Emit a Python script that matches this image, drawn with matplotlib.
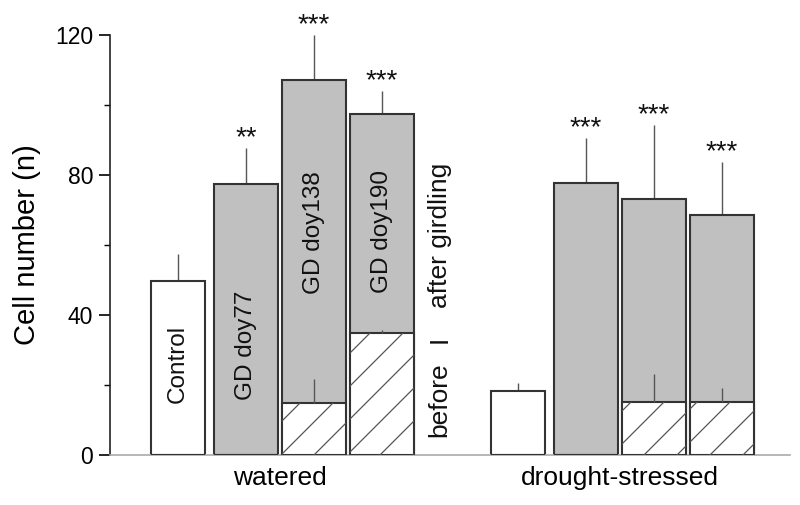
import matplotlib
matplotlib.use("Agg")
from matplotlib import pyplot as plt
from matplotlib.lines import Line2D
from matplotlib.transforms import IdentityTransform

plt.rcParams['font.family'] = ['Liberation Sans', 'DejaVu Sans']

groups = ['watered', 'drought-stressed']
bar_names = ['Control', 'GD doy77', 'GD doy138', 'GD doy190']

watered_total = [49.7, 77.4, 107.1, 97.4]
watered_err = [7.7, 10.3, 12.9, 6.6]
watered_before = [0, 0, 14.9, 34.8]
watered_before_err = [0, 0, 6.8, 0.9]

drought_total = [18.3, 77.7, 73.1, 68.6]
drought_err = [2.2, 12.9, 21.2, 15.1]
drought_before = [0, 0, 15.1, 15.1]
drought_before_err = [0, 0, 8.0, 4.0]

watered_stars = ['', '**', '***', '***']
drought_stars = ['', '***', '***', '***']

fig = plt.figure(figsize=(8, 5.05), dpi=100)
ax = fig.add_axes([0.1375, 0.099, 0.85, 0.8317])

grey = '#c0c0c0'
edge = '#333333'
errc = '#555555'

before_patches = []
for g, (tot, err, bef, berr, stars) in enumerate([
        (watered_total, watered_err, watered_before, watered_before_err, watered_stars),
        (drought_total, drought_err, drought_before, drought_before_err, drought_stars)]):
    pos = [1 + 5 * g + i for i in range(4)]
    widths = [0.8, 0.93, 0.93, 0.93]
    colors = ['white', grey, grey, grey]
    ax.bar(pos, tot, width=widths, color=colors, edgecolor=edge, linewidth=1.5, zorder=2)
    bb = ax.bar(pos, bef, width=widths, color='white', edgecolor=edge, linewidth=1.5, zorder=3)
    for p, b in zip(bb, bef):
        if b > 0:
            before_patches.append(p)
    ax.errorbar(pos, tot, yerr=[[0] * 4, err], fmt='none', ecolor=errc,
                elinewidth=1, capsize=0, zorder=1)
    for x, b, e in zip(pos, bef, berr):
        if b > 0:
            ax.errorbar([x], [b], yerr=[[0], [e]], fmt='none', ecolor=errc,
                        elinewidth=1, capsize=0, zorder=4)
    for x, t, e, s in zip(pos, tot, err, stars):
        if s:
            ax.annotate(s, (x, t + e), xytext=(0, 2), textcoords='offset points',
                        ha='center', va='baseline', fontsize=20, color='#111111')

# sparse diagonal hatch, clipped to the "before" parts
for p in before_patches:
    for k in range(-40, 40):
        x0 = k * 33
        ln = Line2D([x0, x0 + 600], [0, 600], transform=IdentityTransform(),
                    color='#555555', linewidth=0.9, zorder=3.5)
        ax.add_line(ln)
        ln.set_clip_path(p)

# labels inside watered bars
label_y = [26, 31.4, 63.4, 64]
for i, (name, y) in enumerate(zip(bar_names, label_y)):
    ax.text(1 + i, y, name, rotation=90, ha='center', va='center',
            fontsize=17.5, color='#111111', zorder=5)

ax.text(4.85, 15.7, 'before', rotation=90, ha='center', va='center', fontsize=19, color='#111111')
ax.text(4.85, 33.0, 'I', rotation=90, ha='center', va='center', fontsize=19, color='#111111')
ax.text(4.85, 62.8, 'after girdling', rotation=90, ha='center', va='center', fontsize=19, color='#111111')

ax.set_xlim(0, 10)
ax.set_ylim(0, 120)
ax.set_yticks([0, 40, 80, 120])
ax.set_yticks([20, 60, 100], minor=True)
ax.set_xticks([2.5, 7.5])
ax.set_xticklabels(groups, fontsize=19)
ax.tick_params(axis='x', length=0, pad=8)
ax.tick_params(axis='y', which='major', length=8, width=1.2, labelsize=16.5, pad=4)
ax.tick_params(axis='y', which='minor', length=4, width=1.0)
ax.set_ylabel('Cell number (n)', fontsize=21, labelpad=10)

for s in ['top', 'right']:
    ax.spines[s].set_visible(False)
ax.spines['left'].set_color('#222222')
ax.spines['left'].set_linewidth(1.2)
ax.spines['bottom'].set_color('#aaaaaa')
ax.spines['bottom'].set_linewidth(1.2)

fig.savefig('out.png', dpi=100)
